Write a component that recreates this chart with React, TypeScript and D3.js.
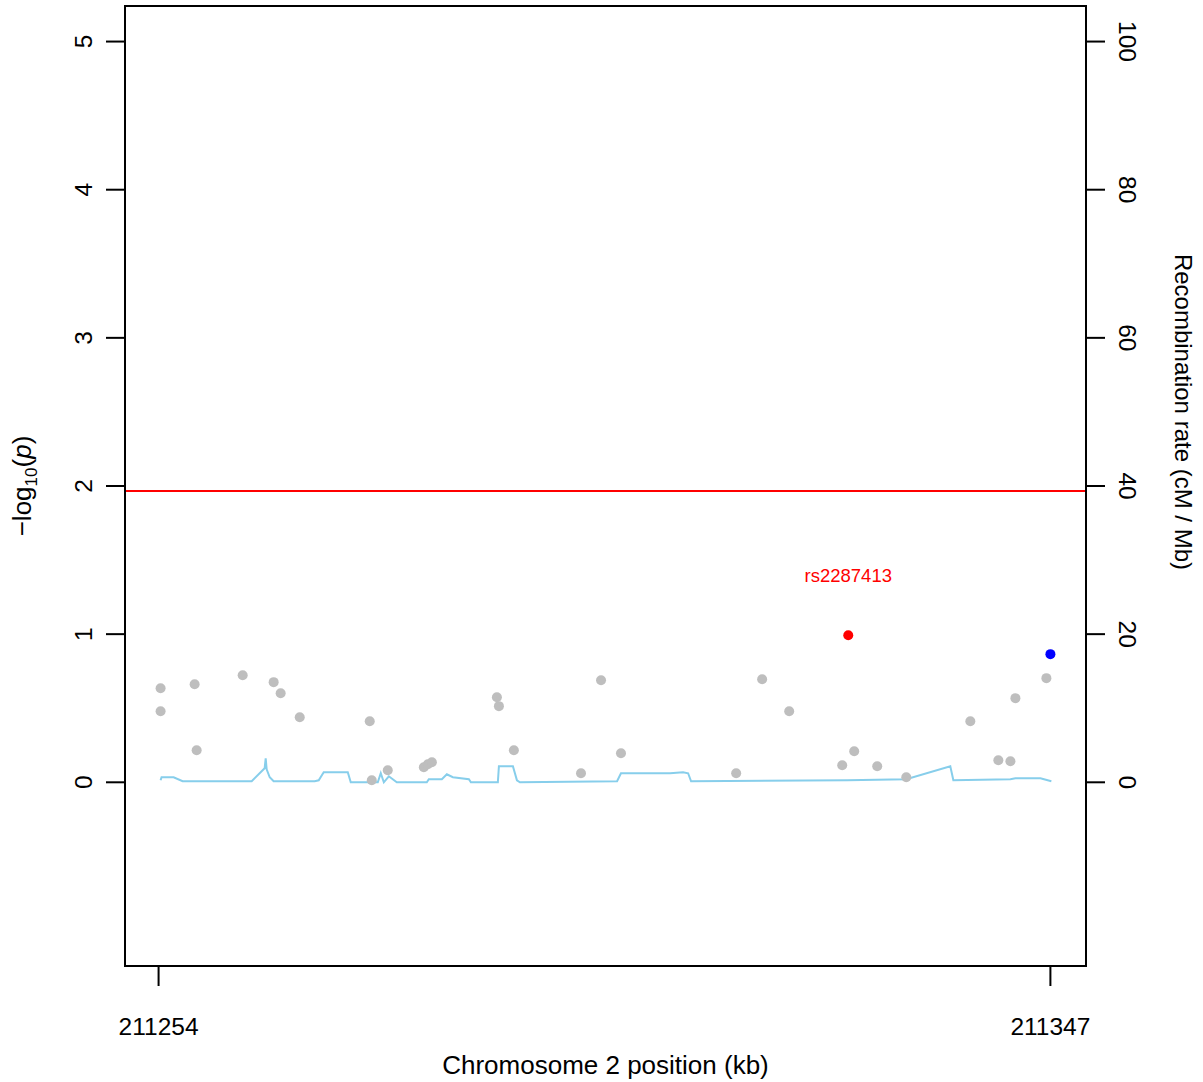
import React from "react";
import * as d3 from "d3";

// SNP positions (kb) and -log10(p)
const snpPos = [
  211254.21, 211254.21, 211257.76, 211257.97, 211262.77, 211266.0, 211266.73, 211268.72,
  211276.02, 211276.23, 211277.9, 211281.66, 211282.08, 211282.5, 211289.28, 211289.49,
  211291.05, 211298.05, 211300.14, 211302.22, 211314.23, 211316.94, 211319.76, 211325.29,
  211326.54, 211328.94, 211331.97, 211338.65, 211341.57, 211342.83, 211343.35, 211346.58,
];
const snpLogP = [
  0.635, 0.48, 0.662, 0.216, 0.723, 0.676, 0.601, 0.439,
  0.412, 0.014, 0.081, 0.101, 0.122, 0.135, 0.574, 0.514,
  0.216, 0.061, 0.689, 0.196, 0.061, 0.696, 0.48, 0.115,
  0.209, 0.108, 0.034, 0.412, 0.149, 0.142, 0.568, 0.703,
];
const topSnp = { name: "rs2287413", pos: 211325.92, logp: 0.993 };
const refSnp = { pos: 211347.0, logp: 0.865 };
const threshold = 1.966;

// Recombination rate (cM/Mb)
const recPos = [
  211254.21, 211254.31, 211255.57, 211256.51, 211263.71, 211265.06, 211265.17, 211265.27,
  211265.59, 211266.0, 211270.28, 211270.7, 211271.22, 211273.73, 211274.04, 211276.86,
  211277.17, 211277.49, 211278.01, 211278.84, 211281.97, 211282.18, 211283.54, 211284.06,
  211284.69, 211286.36, 211286.57, 211289.38, 211289.49, 211290.95, 211291.37, 211291.68,
  211301.81, 211302.22, 211307.34, 211308.69, 211309.22, 211309.53, 211325.81, 211331.97,
  211336.56, 211336.88, 211342.83, 211343.35, 211345.96, 211347.1,
];
const recRate = [
  0.27, 0.68, 0.68, 0.14, 0.14, 1.89, 3.24, 1.76,
  0.68, 0.14, 0.14, 0.27, 1.35, 1.35, 0.0, 0.0,
  1.22, 0.0, 0.81, 0.0, 0.0, 0.41, 0.41, 1.08,
  0.68, 0.41, 0.0, 0.0, 2.16, 2.16, 0.27, 0.0,
  0.14, 1.22, 1.22, 1.35, 1.22, 0.14, 0.27, 0.41,
  2.16, 0.27, 0.41, 0.54, 0.54, 0.14,
];

const leftTicks = [0, 1, 2, 3, 4, 5];
const rightTicks = [0, 20, 40, 60, 80, 100];
const xTicks = [211254, 211347];

const W = 1203;
const H = 1082;
const L = 125, R = 1086, T = 6, B = 966;
const FONT = "'Liberation Sans', Arial, Helvetica, sans-serif";

export default function App() {
  const allPos = [...snpPos, topSnp.pos, refSnp.pos];
  const [xmin, xmax] = d3.extent(allPos) as [number, number];
  const ext = (xmax - xmin) * 0.04;
  const x = d3.scaleLinear().domain([xmin - ext, xmax + ext]).range([L, R]);
  const y = d3.scaleLinear().domain([-1 - 0.24, 5 + 0.24]).range([B, T]);
  const y2 = d3.scaleLinear().domain([-20 - 4.8, 100 + 4.8]).range([B, T]);

  const recLine = d3
    .line<number>()
    .x((_, i) => x(recPos[i]))
    .y((d) => y2(d))(recRate);

  return (
    <svg
      width={W}
      height={H}
      style={{ position: "absolute", left: 0, top: 0, background: "#fff" }}
      fontFamily={FONT}
    >
      <rect x={0} y={0} width={W} height={H} fill="#fff" />
      <path d={recLine || ""} fill="none" stroke="#87CEEB" strokeWidth={2} />
      <line x1={L} x2={R} y1={y(threshold)} y2={y(threshold)} stroke="#FF0000" strokeWidth={2} />
      {snpPos.map((p, i) => (
        <circle key={i} cx={x(p)} cy={y(snpLogP[i])} r={5} fill="#BEBEBE" />
      ))}
      <circle cx={x(topSnp.pos)} cy={y(topSnp.logp)} r={5} fill="#FF0000" />
      <circle cx={x(refSnp.pos)} cy={y(refSnp.logp)} r={5} fill="#0000FF" />
      <text x={x(topSnp.pos)} y={y(topSnp.logp) - 53} textAnchor="middle" fontSize={18.5} fill="#FF0000">
        {topSnp.name}
      </text>

      <rect x={L} y={T} width={R - L} height={B - T} fill="none" stroke="#000" strokeWidth={2} />

      {leftTicks.map((t) => (
        <g key={t}>
          <line x1={L - 19} x2={L} y1={y(t)} y2={y(t)} stroke="#000" strokeWidth={2} />
          <text
            transform={`translate(${L - 42},${y(t)}) rotate(-90)`}
            textAnchor="middle"
            fontSize={24.5}
            dy="0.36em"
          >
            {t}
          </text>
        </g>
      ))}
      {rightTicks.map((t) => (
        <g key={t}>
          <line x1={R} x2={R + 19} y1={y2(t)} y2={y2(t)} stroke="#000" strokeWidth={2} />
          <text
            transform={`translate(${R + 42},${y2(t)}) rotate(90)`}
            textAnchor="middle"
            fontSize={24.5}
            dy="0.36em"
          >
            {t}
          </text>
        </g>
      ))}
      {xTicks.map((t) => (
        <g key={t}>
          <line x1={x(t)} x2={x(t)} y1={B} y2={B + 20} stroke="#000" strokeWidth={2} />
          <text x={x(t)} y={1035} textAnchor="middle" fontSize={24.5}>
            {t}
          </text>
        </g>
      ))}

      <text x={(L + R) / 2} y={1074} textAnchor="middle" fontSize={26}>
        Chromosome 2 position (kb)
      </text>
      <text transform={`translate(31,${(T + B) / 2}) rotate(-90)`} textAnchor="middle" fontSize={26}>
        −log
        <tspan fontSize={17} dy={6}>10</tspan>
        <tspan dy={-6}>(</tspan>
        <tspan fontStyle="italic">p</tspan>)
      </text>
      <text transform={`translate(1175,${y2(50)}) rotate(90)`} textAnchor="middle" fontSize={24}>
        Recombination rate (cM / Mb)
      </text>
    </svg>
  );
}
